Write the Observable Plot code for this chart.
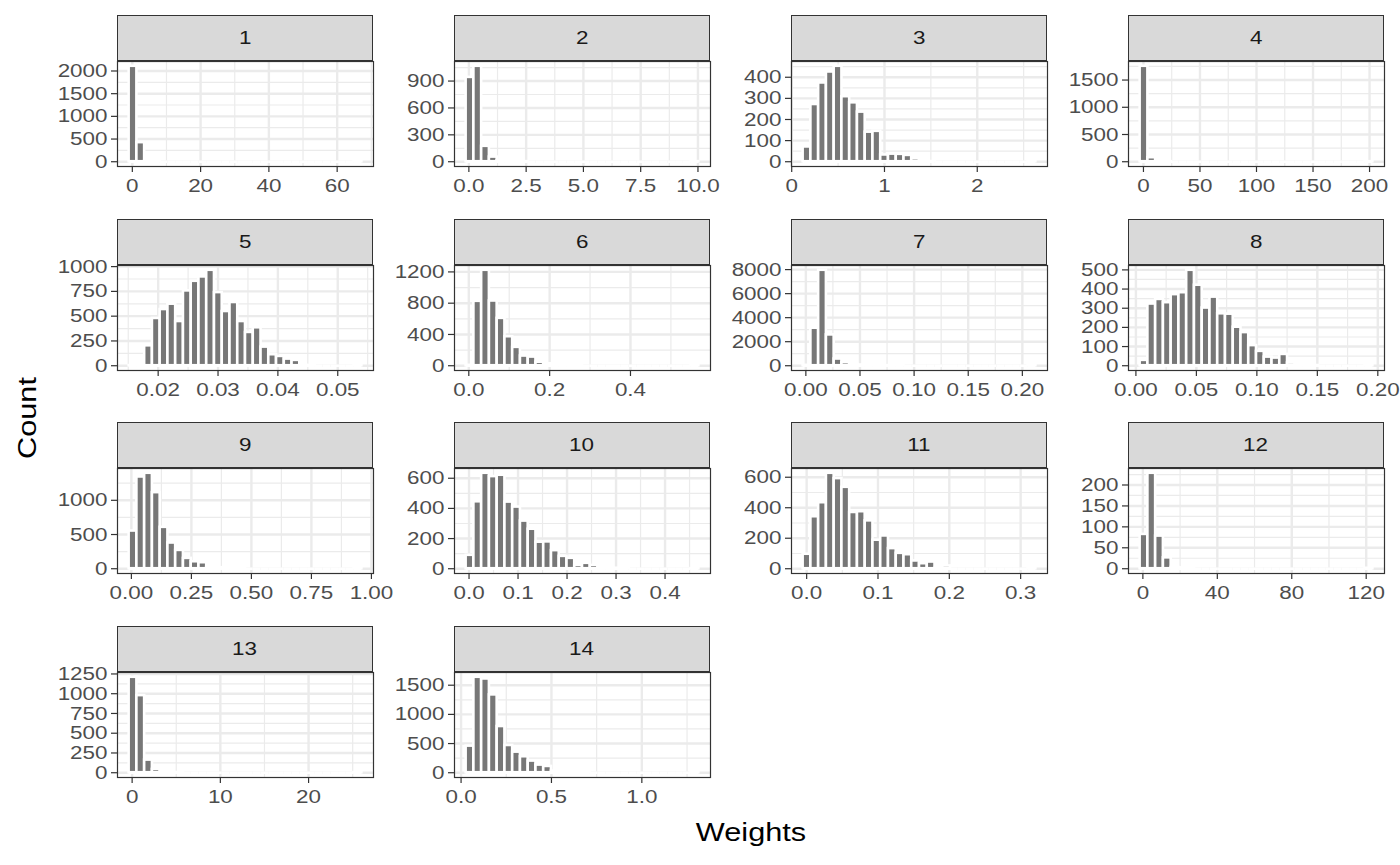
<!DOCTYPE html>
<html><head><meta charset="utf-8">
<script src="https://cdn.jsdelivr.net/npm/d3@7"></script>
<script src="https://cdn.jsdelivr.net/npm/@observablehq/plot@0.6"></script>
<style>
body{margin:0;background:#fff;}
#chart{position:relative;width:1400px;height:865px;font-family:"Liberation Sans",Arial,sans-serif;overflow:hidden;}
.strip{position:absolute;box-sizing:border-box;background:#d9d9d9;border:1.2px solid #333;display:flex;align-items:center;justify-content:center;font-size:19px;color:#1a1a1a;}
.strip span{display:inline-block;transform:scaleX(1.18);}
.panel{position:absolute;}
.title{position:absolute;font-size:26px;color:#000;white-space:nowrap;}
</style></head><body><div id="chart"></div>
<script>
// facet labels
const panels = ["1","2","3","4","5","6","7","8","9","10","11","12","13","14"];
// data range (min, max of Weights) per facet -> 30 bins
const dataMin = [0.2, 0.05, 0.165, 0.5, 0.0158, 0.003, 0.00107, 0.0067, 0.0068, 0.002, 0.0005, 0.61, 0.1, 0.0495];
const dataMax = [66.1, 9.87, 2.59, 199.5, 0.05338, 0.5596, 0.2089, 0.1927, 0.944, 0.4611, 0.3159, 121.5, 25.6, 1.294];
// bin counts (30 bins each)
const counts1  = [2104,421,3,1,0,0,0,0,0,0,0,0,0,0,0,0,0,0,0,0,0,0,0,0,0,0,0,0,0,1];
const counts2  = [941,1065,172,52,10,4,2,1,0,0,0,0,0,0,0,0,0,0,0,0,0,0,0,0,0,0,0,0,0,1];
const counts3  = [70,271,373,425,452,308,279,235,140,144,32,36,35,30,14,3,1,0,0,0,0,0,0,0,0,0,0,0,0,1];
const counts4  = [1753,74,3,1,0,0,0,0,0,0,0,0,0,0,0,0,0,0,0,0,0,0,0,0,0,0,0,0,0,1];
const counts5  = [1,3,201,477,567,621,446,755,852,896,963,738,547,638,446,336,383,188,111,94,67,54,3,1,0,0,0,0,0,1];
const counts6  = [5,824,1221,828,606,371,235,124,111,45,25,8,4,2,1,0,0,0,0,0,0,0,0,0,0,0,0,0,0,1];
const counts7  = [30,3122,7944,2564,557,260,180,60,30,10,5,2,1,0,0,0,0,0,0,0,0,0,0,0,0,0,0,0,0,1];
const counts8  = [28,322,346,329,371,381,498,420,301,358,271,269,201,173,105,75,45,40,59,14,5,2,1,0,0,0,0,0,0,1];
const counts9  = [551,1341,1395,1112,605,376,268,151,102,88,20,15,5,3,1,0,0,0,0,0,0,0,0,0,0,0,0,0,0,1];
const counts10 = [89,444,633,611,620,442,409,316,262,176,178,120,82,69,22,36,22,15,5,3,1,0,0,0,0,0,0,0,0,1];
const counts11 = [95,341,433,626,591,534,369,374,314,187,215,132,101,92,51,33,44,2,18,0,0,0,0,0,0,0,0,0,0,1];
const counts12 = [82,228,78,26,3,2,1,0,0,0,0,0,0,0,0,0,0,0,0,0,0,0,0,0,0,0,0,0,0,1];
const counts13 = [1208,976,160,42,8,3,1,0,0,0,0,0,0,0,0,0,0,0,0,0,0,0,0,0,0,0,0,0,0,1];
const counts14 = [456,1636,1607,1334,792,467,353,274,200,131,108,28,14,6,3,1,0,0,0,0,0,0,0,0,0,0,0,0,0,1];
const countsList = [counts1,counts2,counts3,counts4,counts5,counts6,counts7,counts8,counts9,counts10,counts11,counts12,counts13,counts14];
// x tick values and labels
const xTicksList = [
  [0,20,40,60],[0,2.5,5,7.5,10],[0,1,2],[0,50,100,150,200],
  [0.02,0.03,0.04,0.05],[0,0.2,0.4],[0,0.05,0.1,0.15,0.2],[0,0.05,0.1,0.15,0.2],
  [0,0.25,0.5,0.75,1],[0,0.1,0.2,0.3,0.4],[0,0.1,0.2,0.3],[0,40,80,120],
  [0,10,20],[0,0.5,1]
];
const xLabelsList = [
  ["0","20","40","60"],["0.0","2.5","5.0","7.5","10.0"],["0","1","2"],["0","50","100","150","200"],
  ["0.02","0.03","0.04","0.05"],["0.0","0.2","0.4"],["0.00","0.05","0.10","0.15","0.20"],["0.00","0.05","0.10","0.15","0.20"],
  ["0.00","0.25","0.50","0.75","1.00"],["0.0","0.1","0.2","0.3","0.4"],["0.0","0.1","0.2","0.3"],["0","40","80","120"],
  ["0","10","20"],["0.0","0.5","1.0"]
];
// y tick values
const yTicksList = [
  [0,500,1000,1500,2000],[0,300,600,900],[0,100,200,300,400],[0,500,1000,1500],
  [0,250,500,750,1000],[0,400,800,1200],[0,2000,4000,6000,8000],[0,100,200,300,400,500],
  [0,500,1000],[0,200,400,600],[0,200,400,600],[0,50,100,150,200],
  [0,250,500,750,1000,1250],[0,500,1000,1500]
];
const xTitle = "Weights";
const yTitle = "Count";

const chart = document.getElementById("chart");
const colLeft = [117, 454, 791, 1128];
const panelW = 256, panelH = 105, stripH = 46;
const rowTop = [15, 218.5, 422, 625.5];
const mL = 70, mR = 30, mT = 2, mB = 40;
const stretch = 1.18;

function minorTicks(t, domain) {
  const out = [];
  const step = t[1] - t[0];
  out.push(t[0] - step / 2);
  for (let i = 0; i < t.length - 1; i++) out.push((t[i] + t[i + 1]) / 2);
  out.push(t[t.length - 1] + step / 2);
  return out.filter(v => v >= domain[0] && v <= domain[1]);
}

function widenText(svg) {
  svg.querySelectorAll("text").forEach(t => {
    let x = parseFloat(t.getAttribute("x"));
    if (!isFinite(x)) x = 0;
    const tr = t.getAttribute("transform") || "";
    t.setAttribute("transform", `${tr} translate(${x},0) scale(${stretch},1) translate(${-x},0)`.trim());
  });
}

panels.forEach((name, p) => {
  const row = Math.floor(p / 4), col = p % 4;
  const mn = dataMin[p], mx = dataMax[p], w = (mx - mn) / 29;
  const c = countsList[p];
  const bins = c.map((n, i) => ({x1: mn + (i - 0.5) * w, x2: mn + (i + 0.5) * w, n}));
  const lo = mn - w / 2, hi = mx + w / 2, pad = 0.05 * (hi - lo);
  const xDom = [lo - pad, hi + pad];
  const maxC = d3.max(c);
  const yDom = [-0.05 * maxC, 1.05 * maxC];
  const xt = xTicksList[p], xl = xLabelsList[p], yt = yTicksList[p];
  const xMinor = minorTicks(xt, xDom), yMinor = minorTicks(yt, yDom);

  const strip = document.createElement("div");
  strip.className = "strip";
  strip.style.left = colLeft[col] + "px";
  strip.style.top = rowTop[row] + "px";
  strip.style.width = panelW + "px";
  strip.style.height = stripH + "px";
  const sp = document.createElement("span");
  sp.textContent = name;
  strip.appendChild(sp);
  chart.appendChild(strip);

  const svg = Plot.plot({
    width: mL + panelW + mR, height: mT + panelH + mB,
    marginLeft: mL, marginRight: mR, marginTop: mT, marginBottom: mB,
    x: {domain: xDom},
    y: {domain: yDom},
    style: {background: "transparent", overflow: "visible", fontFamily: "Liberation Sans, Arial, sans-serif"},
    marks: [
      Plot.gridX(xMinor, {stroke: "#ebebeb", strokeOpacity: 1, strokeWidth: 1.2}),
      Plot.gridY(yMinor, {stroke: "#ebebeb", strokeOpacity: 1, strokeWidth: 1.2}),
      Plot.gridX(xt, {stroke: "#ebebeb", strokeOpacity: 1, strokeWidth: 2.4}),
      Plot.gridY(yt, {stroke: "#ebebeb", strokeOpacity: 1, strokeWidth: 2.4}),
      Plot.ruleY(bins, {x1: "x1", x2: "x2", y: d => 0, stroke: "white", strokeWidth: 2.6}),
      Plot.rectY(bins.filter(b => b.n > 0), {x1: "x1", x2: "x2", y: "n", fill: "#777777", stroke: "white", strokeWidth: 2.6}),
      Plot.frame({stroke: "#333333", strokeWidth: 1.2}),
      Plot.axisX(xt, {tickFormat: d => xl[xt.indexOf(d)], tickSize: 6, tickPadding: 6, fontSize: 19, fill: "#4d4d4d", stroke: "#333333", strokeWidth: 1.2, label: null}),
      Plot.axisY(yt, {tickFormat: d => String(d), tickSize: 6, tickPadding: 4, fontSize: 19, fill: "#4d4d4d", stroke: "#333333", strokeWidth: 1.2, label: null})
    ]
  });
  widenText(svg);
  svg.classList.add("panel");
  svg.style.left = (colLeft[col] - mL) + "px";
  svg.style.top = (rowTop[row] + stripH - mT) + "px";
  chart.appendChild(svg);
});

const xtl = document.createElement("div");
xtl.className = "title";
xtl.textContent = xTitle;
xtl.style.left = "751px"; xtl.style.top = "832px";
xtl.style.transform = `translate(-50%,-50%) scaleX(${stretch})`;
chart.appendChild(xtl);

const yl = document.createElement("div");
yl.className = "title";
yl.textContent = yTitle;
yl.style.left = "27px"; yl.style.top = "418px";
yl.style.transform = `translate(-50%,-50%) rotate(-90deg) scaleX(${stretch})`;
chart.appendChild(yl);
</script></body></html>
